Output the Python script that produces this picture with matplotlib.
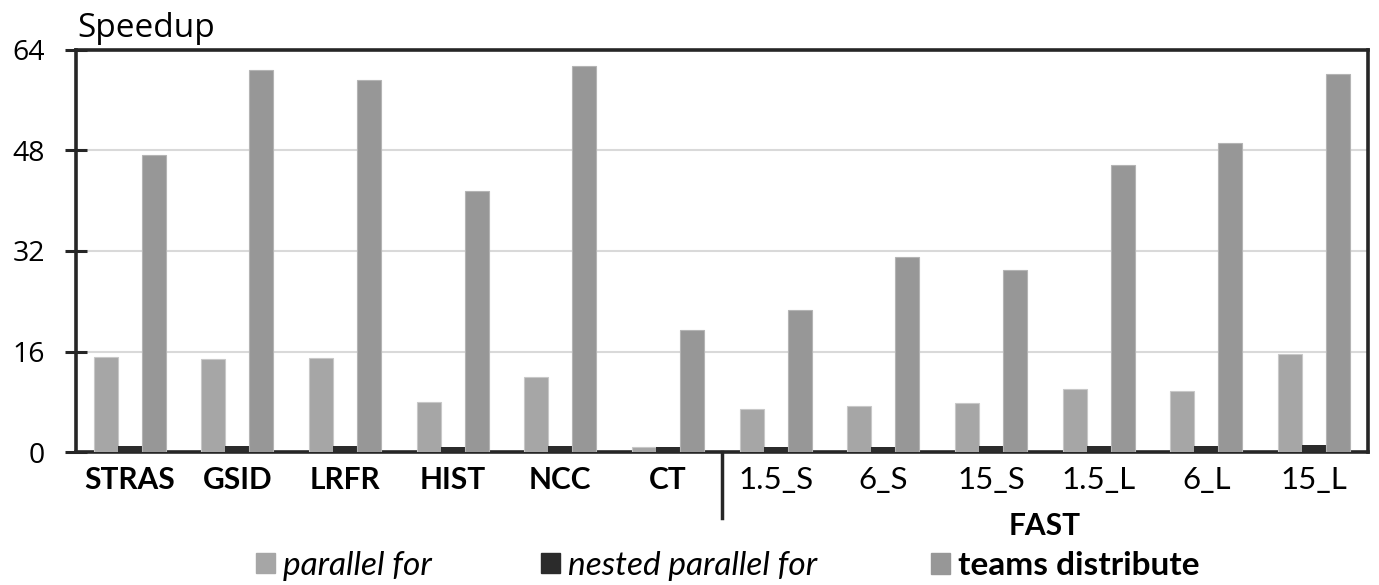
import matplotlib.pyplot as plt
from matplotlib.patches import Patch
import numpy as np

plt.rcParams["font.family"] = ["Lato", "DejaVu Sans"]

# Data
benchmarks = ["STRAS", "GSID", "LRFR", "HIST", "NCC", "CT",
              "1.5_S", "6_S", "15_S", "1.5_L", "6_L", "15_L"]
parallel_for = [15.2, 14.9, 15.0, 8.0, 12.0, 0.8,
                6.9, 7.3, 7.8, 10.1, 9.7, 15.6]
nested_parallel_for = [1.0, 1.0, 1.0, 0.9, 1.0, 0.8,
                       0.9, 0.85, 1.0, 1.0, 1.0, 1.1]
teams_distribute = [47.2, 60.7, 59.2, 41.5, 61.4, 19.5,
                    22.6, 31.0, 28.9, 45.7, 49.2, 60.1]
yticks = [0, 16, 32, 48, 64]

c_pf = "#a6a6a6"
c_nested = "#2b2b2b"
c_td = "#979797"
c_axis = "#262626"

fig = plt.figure(figsize=(13.79, 5.85), dpi=100)
ax = fig.add_axes([0.0549, 0.2268, 0.9369, 0.6884])

x = np.arange(len(benchmarks))
w = 0.223
ax.bar(x - w, parallel_for, w, color=c_pf, edgecolor="#c8c8c8", linewidth=0.8, zorder=3)
ax.bar(x, nested_parallel_for, w, color=c_nested, zorder=3)
ax.bar(x + w, teams_distribute, w, color=c_td, edgecolor="#b4b4b4", linewidth=0.8, zorder=3)

ax.set_xlim(-0.5, len(benchmarks) - 0.5)
ax.set_ylim(0, 64)
ax.set_yticks(yticks)
ax.yaxis.grid(True, color="#d9d9d9", linewidth=1.5, zorder=0)
ax.set_axisbelow(True)
ax.tick_params(axis="y", direction="inout", length=16, width=2.2,
               color=c_axis, pad=14)
ax.tick_params(axis="x", length=0, pad=10)
for s in ax.spines.values():
    s.set_linewidth(2.6)
    s.set_color(c_axis)

for lbl in ax.get_yticklabels():
    lbl.set_family(["Open Sans", "DejaVu Sans"])
    lbl.set_fontsize(20.5)

ax.set_xticks(x)
ax.set_xticklabels(benchmarks)
for i, lbl in enumerate(ax.get_xticklabels()):
    if i < 6:
        lbl.set_fontweight("bold")
        lbl.set_fontsize(21.5)
    else:
        lbl.set_fontsize(22.5)

# separator between the suites and the FAST group label
ax.plot([5.5, 5.5], [0, -10.45], color=c_axis, linewidth=2.5, clip_on=False)
ax.text(8.5, -11.75, "FAST", ha="center", va="center", fontsize=21.5,
        fontweight="bold")

fig.text(0.0558, 0.9362, "Speedup", ha="left", va="baseline", fontsize=24,
         family=["Open Sans", "DejaVu Sans"])

# legend entries laid out like the original
entries = [("parallel for", c_pf, {"style": "italic"}, 0.1854),
           ("nested parallel for", c_nested, {"style": "italic"}, 0.3923),
           ("teams distribute", c_td, {"weight": "bold"}, 0.6751)]
for label, color, props, xpos in entries:
    leg = fig.legend(handles=[Patch(color=color, label=label)],
                     loc="center left", bbox_to_anchor=(xpos, 0.0325),
                     frameon=False, handlelength=0.57, handleheight=0.57,
                     handletextpad=0.25, borderaxespad=0, borderpad=0,
                     prop=dict(size=24, **props))

fig.savefig("out.png", dpi=100)
